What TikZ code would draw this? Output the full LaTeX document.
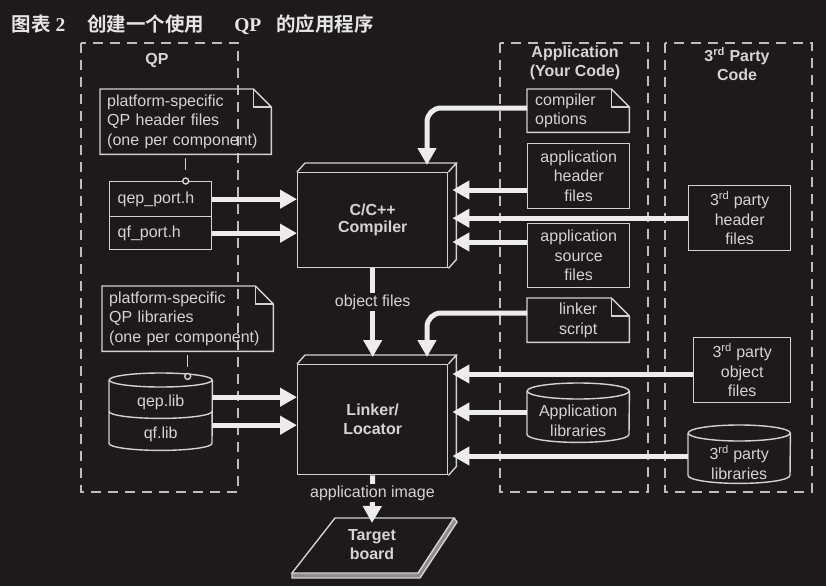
\documentclass[tikz,border=0pt]{standalone}
\usepackage{fontspec}
\setmainfont{Liberation Sans}
\newfontfamily\cjkf{Noto Sans CJK SC}[BoldFont={Noto Sans CJK SC Bold}]
\newfontfamily\tserif{Liberation Serif}
\usetikzlibrary{arrows.meta,calc}
\definecolor{bg}{HTML}{1C1A1A}
\definecolor{linec}{HTML}{D2D2D2}
\definecolor{txtc}{HTML}{D4D4D4}
\definecolor{arrc}{HTML}{ECECEC}
\definecolor{dashc}{HTML}{BDBDBD}
\definecolor{sidec}{HTML}{8C8C8C}
\begin{document}
\begin{tikzpicture}[x=1pt,y=1pt,
  every node/.style={text=txtc, font=\fontsize{16}{19.5}\selectfont},
  ln/.style={draw=linec, line width=1.4pt},
  pbox/.style={inner sep=0pt, align=center, anchor=north west},
  dbox/.style={pbox, ln},
  lbox/.style={pbox, align=left, inner xsep=8pt},
  arr/.style={draw=arrc, line width=5pt, -{Triangle[length=17pt,width=18pt]}},
  colbox/.style={draw=dashc, line width=2pt, dash pattern=on 10pt off 7pt},
  lbl/.style={font=\bfseries\fontsize{16}{19}\selectfont, align=center},
  lblbg/.style={fill=bg, inner sep=1.5pt},
  dconn/.style={ln, dash pattern=on 12pt off 8pt, dash phase=16pt},
]
\fill[bg] (0,0) rectangle (826,-586);
\useasboundingbox (0,0) rectangle (826,-586);

% title
\node[anchor=west, text=white!90!black] (title) at (8,-25) {\fontsize{19.5}{24}\selectfont\cjkf\bfseries 图表\hspace{5pt}{\tserif\bfseries 2}\hspace{22pt}创建一个使用\hspace{30pt}{\tserif\bfseries QP}\hspace{15pt}的应用程序};

% column frames
\draw[colbox] (81,-43) rectangle (238,-492);
\draw[colbox] (500,-43) rectangle (648,-492);
\draw[colbox] (665,-43) rectangle (812,-492);
\node[lbl] (qpT) at (157,-60) {QP};
\node[lbl] (appT) at (575,-63) {Application\\(Your Code)};
\node[lbl] (tpT) at (737,-64) {3\textsuperscript{rd} Party\\Code};

% QP column
\node[lbox, inner xsep=7pt, text width=157pt, minimum height=65pt] (nhdr) at (100,-89) {platform-specific\\QP header files\\(one per component)};
\node[dbox, align=left, inner xsep=8pt, text width=86pt, minimum height=35pt] (qep) at (109,-181) {qep\_port.h};
\node[dbox, align=left, inner xsep=8pt, text width=86pt, minimum height=33pt] (qf) at (109,-216) {qf\_port.h};
\node[lbox, inner xsep=7pt, text width=157pt, minimum height=65pt] (nlib) at (102,-286) {platform-specific\\QP libraries\\(one per component)};
\node[pbox, minimum width=103pt, minimum height=31pt] (qeplib) at (109,-387) {qep.lib};
\node[pbox, minimum width=103pt, minimum height=32pt] (qflib) at (109,-418) {qf.lib};

% application column
\node[lbox, text width=86pt, minimum height=43pt] (copt) at (527,-89) {compiler\\options};
\node[dbox, minimum width=102pt, minimum height=65pt] (ahdr) at (527,-143) {application\\header\\files};
\node[dbox, minimum width=102pt, minimum height=64pt] (asrc) at (527,-223) {application\\source\\files};
\node[pbox, minimum width=102pt, minimum height=44pt] (lscr) at (527,-298) {linker\\script};
\node[pbox, minimum width=102pt, minimum height=43pt] (alib) at (527,-399) {Application\\libraries};

% 3rd party column
\node[dbox, minimum width=102pt, minimum height=65pt] (thdr) at (688,-185) {3\textsuperscript{rd} party\\header\\files};
\node[dbox, minimum width=97pt, minimum height=65pt] (tobj) at (693,-337) {3\textsuperscript{rd} party\\object\\files};
\node[pbox, minimum width=102pt, minimum height=42pt] (tlib) at (688,-441) {3\textsuperscript{rd} party\\libraries};

% tools
\node[dbox, minimum width=150pt, minimum height=95pt, lbl] (comp) at (297,-172) {\raisebox{3pt}{\shortstack{C/C++\\[2pt]Compiler}}};
\node[dbox, minimum width=150pt, minimum height=110pt, lbl] (link) at (297,-364) {Linker/\\Locator};
\foreach \n in {comp,link}{
  \draw[ln] (\n.north west) -- ++(8,9) -- ($(\n.north east)+(8,9)$) -- (\n.north east)
            ($(\n.north east)+(8,9)$) -- ($(\n.south east)+(8,9)$) -- (\n.south east);
}

% notes with folded corner
\foreach \n in {nhdr,nlib,copt,lscr}{
  \draw[ln] (\n.south west) -- (\n.north west) -- ($(\n.north east)+(-18,0)$) -- ($(\n.north east)+(0,-18)$) -- (\n.south east) -- cycle;
  \draw[ln] ($(\n.north east)+(-18,0)$) |- ($(\n.north east)+(0,-18)$);
}

% cylinders
\foreach \n in {alib,tlib}{
  \draw[ln] ($(\n.north west)+(0,8)$) -- ($(\n.south west)+(0,8)$) arc[start angle=180,end angle=360,x radius=51,y radius=8] -- ($(\n.north east)+(0,8)$);
  \draw[ln] ($(\n.north)+(0,8)$) ellipse[x radius=51,y radius=8];
}
\draw[ln] ($(qeplib.north west)+(0,7)$) -- ($(qflib.south west)+(0,7)$) arc[start angle=180,end angle=360,x radius=51.5,y radius=7] -- ($(qeplib.north east)+(0,7)$);
\draw[ln] ($(qeplib.north)+(0,7)$) ellipse[x radius=51.5,y radius=7];
\draw[ln] ($(qeplib.south west)+(0,7)$) arc[start angle=180,end angle=360,x radius=51.5,y radius=7];

% dashed note connectors
\draw[dconn] (nhdr.south) -- (nhdr.south |- qep.north);
\draw[ln, fill=bg] (nhdr.south |- qep.north) circle[radius=3];
\coordinate (k2) at ($(nlib.south)+(0,-25)$);
\draw[dconn] (nlib.south) -- (k2);
\draw[ln, fill=bg] (k2) circle[radius=3];

% target board
\node[lbl] (tgt) at (372,-545) {Target\\board};
\fill[sidec] (292,-573) -- (418,-573) -- (454,-518) -- (457,-522) -- (420,-578) -- (292,-578) -- cycle;
\draw[ln] (335,-518) -- (454,-518) -- (418,-573) -- (292,-573) -- cycle;
\draw[ln] (292,-573) -- (292,-578) -- (420,-578) -- (457,-522) -- (454,-518);

% arrows left side
\draw[arr] (qep.east) -- (qep.east -| comp.west);
\draw[arr] (qf.east) -- (qf.east -| comp.west);
\coordinate (qa) at ($(qeplib.east)+(0,5.5)$);
\coordinate (qb) at ($(qflib.east)+(0,9)$);
\draw[arr] (qa) -- (qa -| link.west);
\draw[arr] (qb) -- (qb -| link.west);

% arrows right side
\coordinate (cE) at ($(comp.east)+(4,0)$);
\coordinate (lE) at ($(link.east)+(4,0)$);
\draw[arr] (ahdr.west |- 0,-190) -- (cE |- 0,-190);
\draw[arr] (thdr.west) -- (cE |- thdr.west);
\draw[arr] (asrc.west |- 0,-242) -- (cE |- 0,-242);
\draw[arr] (tobj.west |- 0,-374) -- (lE |- 0,-374);
\draw[arr] (alib.west |- 0,-412) -- (lE |- 0,-412);
\draw[arr] (tlib.west |- 0,-456) -- (lE |- 0,-456);

% curved arrows from notes
\coordinate (cT) at ($(comp.north west)+(130,7)$);
\coordinate (lT) at ($(link.north west)+(130,7)$);
\draw[arr, rounded corners=14pt] (copt.west |- 0,-108) -| (cT);
\draw[arr, rounded corners=14pt] (lscr.west |- 0,-313) -| (lT);

% vertical flow
\coordinate (lT2) at ($(link.north)+(0,7)$);
\draw[arr] (comp.south) -- node[lblbg, pos=0.38] (objl) {object files} (lT2);
\coordinate (tT) at ($(tgt)+(0,22)$);
\draw[arr] (link.south) -- node[lblbg, pos=0.37] (imgl) {application image} (tT);
\end{tikzpicture}
\end{document}
